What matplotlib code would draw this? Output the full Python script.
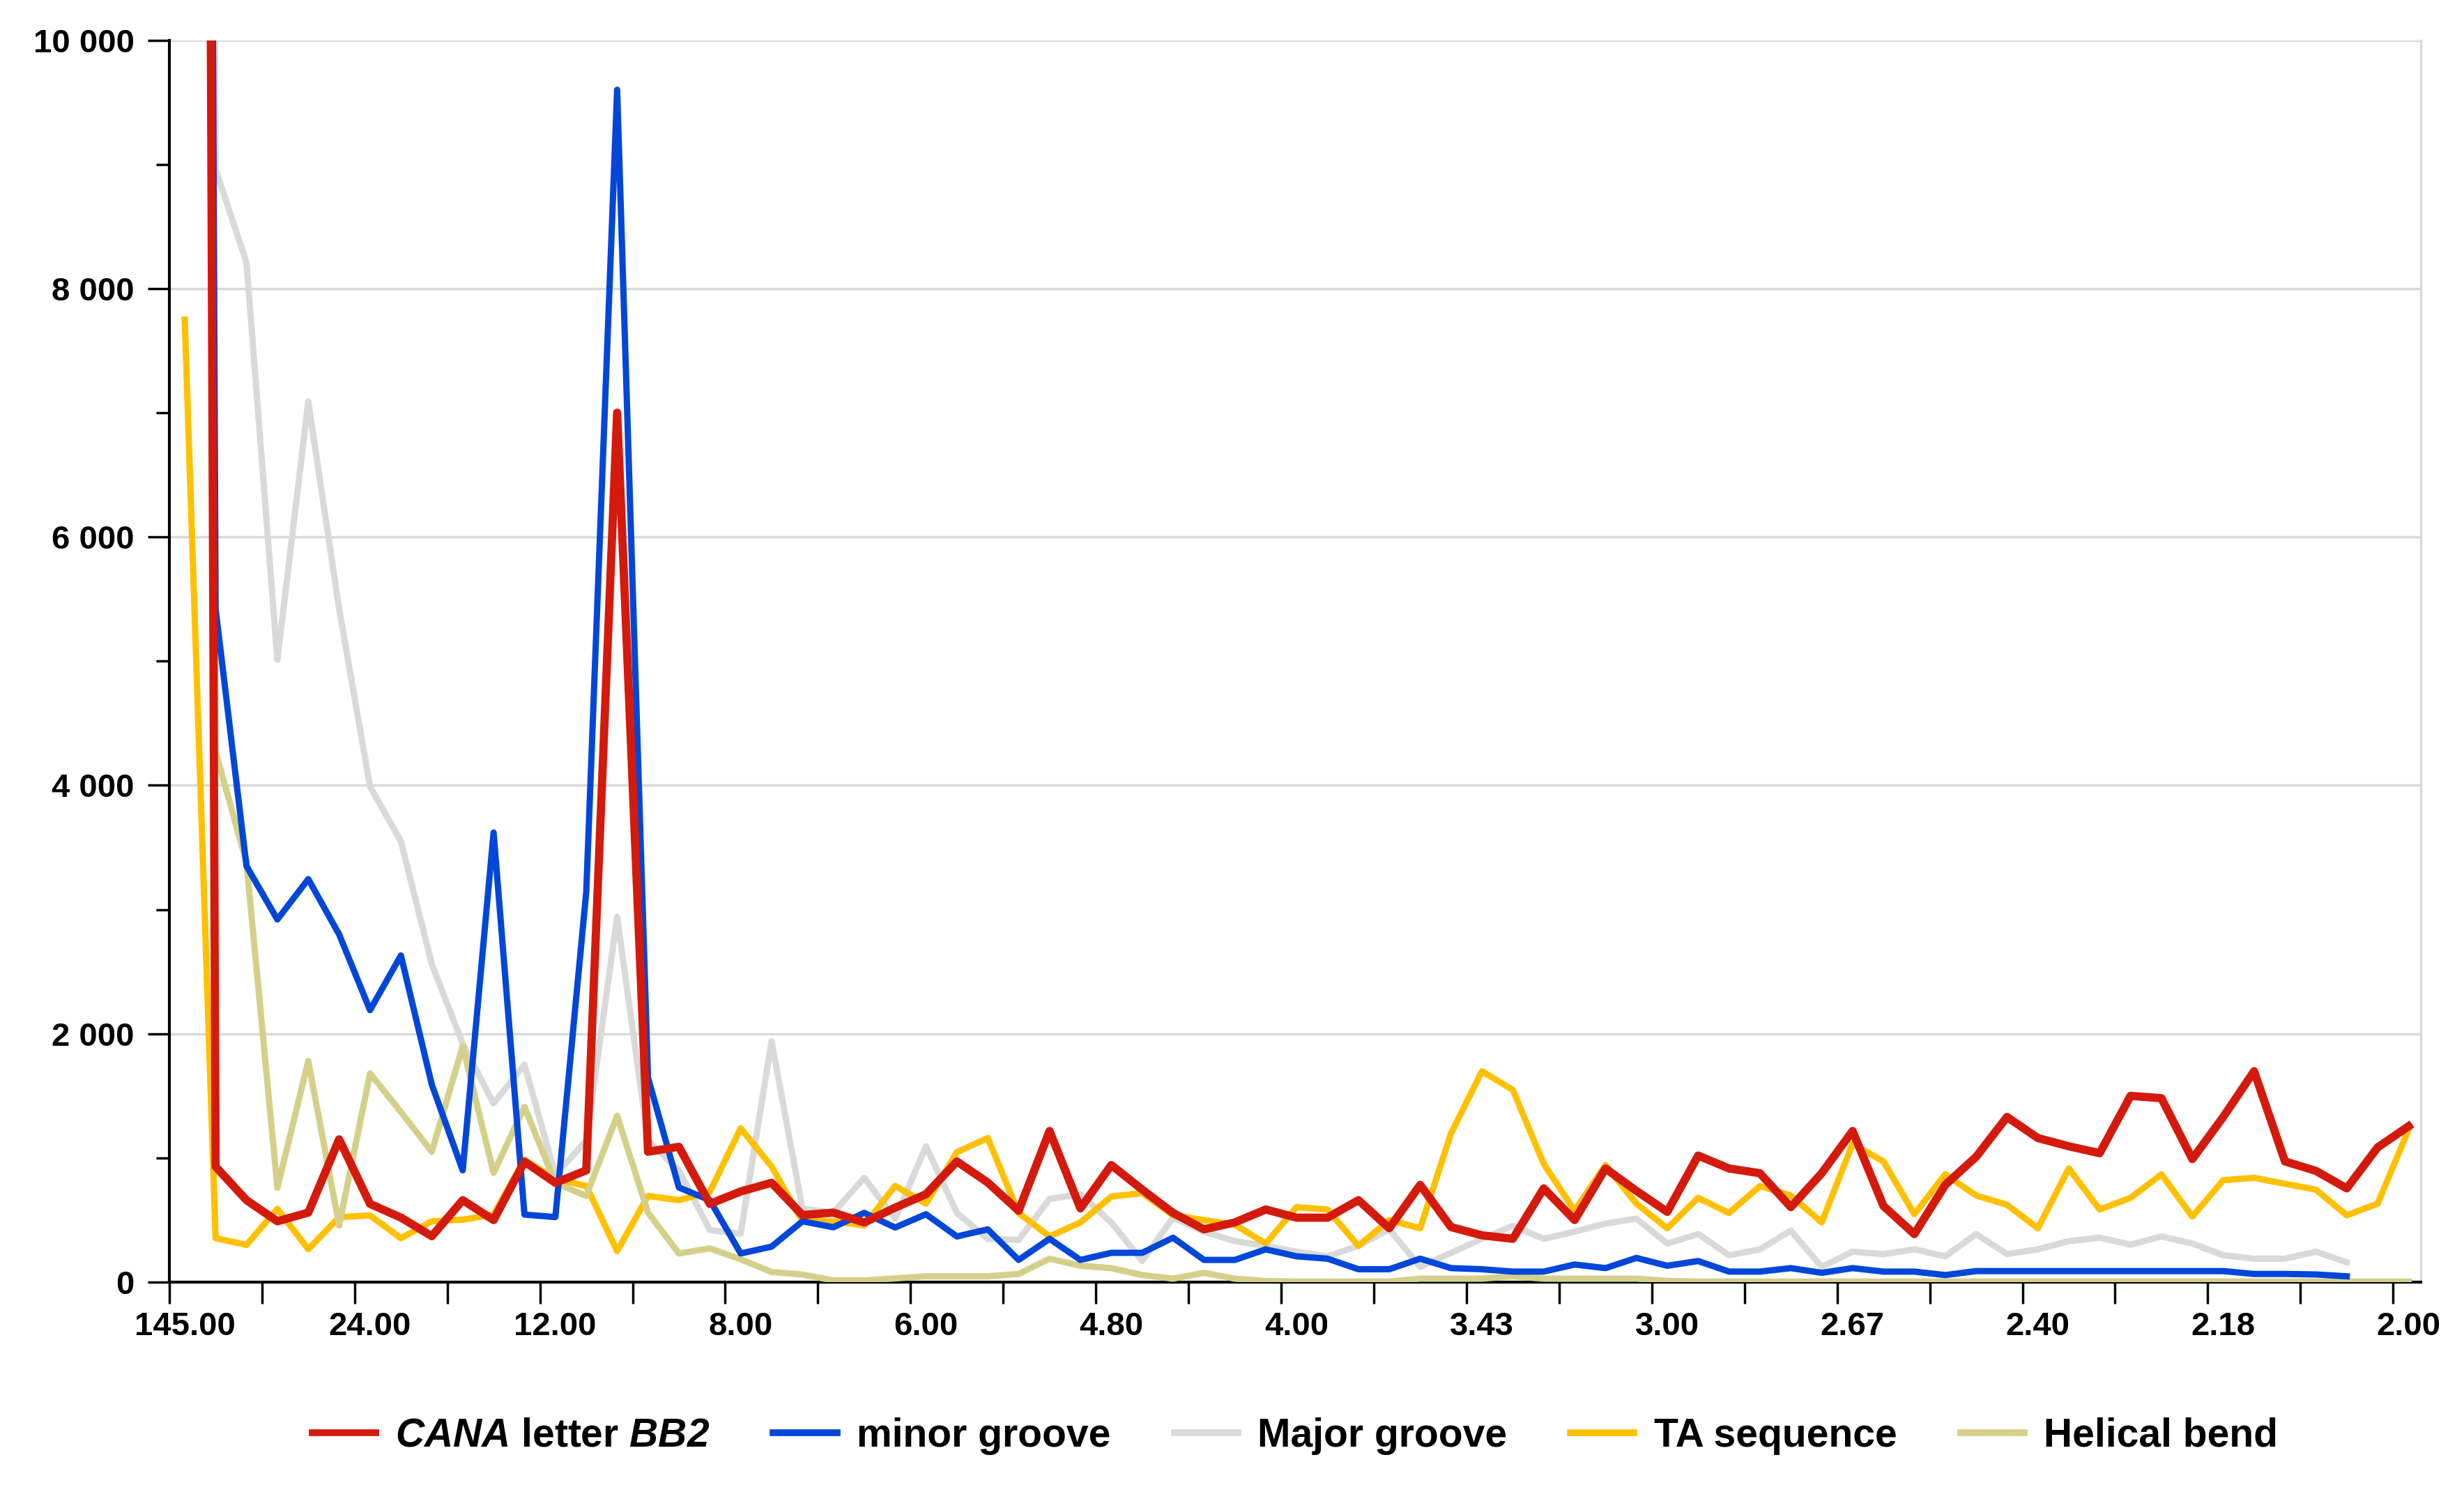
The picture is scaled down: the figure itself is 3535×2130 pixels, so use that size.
import numpy as np
import matplotlib.pyplot as plt
from matplotlib.ticker import MultipleLocator, FuncFormatter, FixedLocator
from matplotlib import font_manager

fams = {f.name for f in font_manager.fontManager.ttflist}
FONT = 'Liberation Sans Narrow' if 'Liberation Sans Narrow' in fams else 'Liberation Sans'
plt.rcParams['font.family'] = FONT
plt.rcParams['mathtext.fontset'] = 'custom'
plt.rcParams['mathtext.it'] = FONT + ':bold:italic'
plt.rcParams['mathtext.rm'] = FONT + ':bold:italic'

# x categories: 145.00 then 144/n periods, labelled every 6th
n_pts = 73
tick_labels = ['145.00', '24.00', '12.00', '8.00', '6.00', '4.80', '4.00',
               '3.43', '3.00', '2.67', '2.40', '2.18', '2.00']

# first point of most series is far off scale (clipped at 10 000)
cana = [60000, 930, 660, 490, 560, 1150, 630, 520, 370, 660, 500, 970, 800, 900, 7000,
        1050, 1090, 630, 730, 800, 540, 560, 480, 600, 708, 972, 802, 575, 1217, 594,
        943, 745, 557, 425, 481, 585, 519, 519, 660, 434, 783, 443, 377, 349, 755, 500,
        915, 735, 566, 1019, 915, 877, 604, 877, 1217, 613, 387, 783, 1009, 1330, 1160,
        1094, 1038, 1500, 1481, 991, 1330, 1698, 972, 896, 755, 1085, 1255]
minor = [60000, 5420, 3350, 2920, 3245, 2800, 2190, 2630, 1590, 900, 3620, 544, 524, 3140,
         9600, 1646, 762, 660, 231, 286, 490, 442, 558, 440, 547, 368, 425, 179, 349, 179,
         236, 236, 358, 179, 179, 264, 208, 189, 104, 104, 189, 113, 104, 85, 85, 142,
         113, 195, 132, 170, 85, 85, 113, 75, 113, 85, 85, 57, 89, 89, 89, 89, 89, 89,
         89, 89, 89, 66, 66, 62, 47, np.nan, np.nan]
major = [60000, 8960, 8210, 5010, 7090, 5420, 3990, 3550, 2560, 1920, 1440, 1750, 864,
         1140, 2940, 1140, 900, 420, 390, 1940, 590, 560, 840, 510, 1094, 557, 349, 340,
         670, 708, 481, 170, 519, 406, 330, 292, 245, 208, 292, 425, 123, 236, 349, 453,
         349, 406, 472, 512, 311, 387, 217, 264, 415, 123, 245, 226, 264, 208, 387, 226,
         264, 330, 358, 302, 368, 311, 217, 189, 189, 245, 160, np.nan, np.nan]
ta = [7750, 354, 300, 590, 265, 524, 537, 354, 490, 503, 544, 986, 830, 775, 250, 694,
      660, 728, 1238, 932, 490, 490, 456, 775, 632, 1047, 1160, 557, 368, 481, 689, 717,
      538, 500, 462, 311, 604, 585, 292, 500, 434, 1198, 1698, 1547, 953, 575, 943, 632,
      434, 679, 557, 774, 698, 481, 1113, 972, 547, 868, 698, 623, 434, 915, 585, 679,
      868, 528, 821, 840, 792, 745, 538, 632, 1226]
helical = [60000, 4270, 3380, 760, 1780, 456, 1680, 1370, 1050, 1900, 880, 1410, 800, 694,
           1340, 560, 231, 272, 184, 82, 61, 14, 14, 30, 47, 47, 47, 66, 189, 132, 113, 57,
           28, 75, 28, 9, 5, 5, 5, 5, 28, 28, 28, 47, 28, 28, 28, 28, 10, 5, 5, 5, 5, 5,
           5, 5, 5, 5, 5, 5, 5, 5, 5, 5, 5, 5, 5, 5, 5, 5, 5, 5, 5]

series = [
    ('$CANA$ letter $BB2$', cana, '#d41a0c', 8.5, 5),
    ('minor groove', minor, '#0047d9', 6.5, 4),
    ('Major groove', major, '#d9d9d9', 6.5, 1),
    ('TA sequence', ta, '#ffc000', 6.5, 2),
    ('Helical bend', helical, '#d4d08a', 6.5, 3),
]

fig = plt.figure(figsize=(35.35, 21.3), dpi=100)
ax = fig.add_axes([0.0687, 0.1366, 0.9138, 0.8364])
x = np.arange(n_pts)
for label, vals, col, lw, z in series:
    ax.plot(x, vals, color=col, lw=lw, label=label, zorder=z)

ax.set_ylim(0, 10000)
ax.set_xlim(-0.5, 72.4)
ax.yaxis.set_major_locator(MultipleLocator(2000))
ax.yaxis.set_minor_locator(MultipleLocator(1000))
ax.yaxis.set_major_formatter(FuncFormatter(lambda v, p: f'{int(v):,}'.replace(',', ' ')))
ax.grid(axis='y', which='major', color='#d9d9d9', lw=2.5, zorder=0)

ax.xaxis.set_major_locator(FixedLocator(np.arange(-0.5, 72, 3)))
ax.xaxis.set_major_formatter(FuncFormatter(lambda v, p: ''))
ax.xaxis.set_minor_locator(FixedLocator(np.arange(0, 73, 6)))
ax.set_xticklabels(tick_labels, minor=True)
ax.tick_params(axis='x', which='major', length=22, width=2.5, direction='out')
ax.tick_params(axis='x', which='minor', length=0, pad=30, labelsize=34)
ax.tick_params(axis='y', which='major', length=22, width=2.5, labelsize=34, pad=14)
ax.tick_params(axis='y', which='minor', length=14, width=2.5)
for lab in ax.get_xticklabels(minor=True) + ax.get_yticklabels():
    lab.set_fontweight('bold')

for s in ['left', 'bottom']:
    ax.spines[s].set_linewidth(3)
ax.spines['top'].set_visible(False)
ax.spines['right'].set_color('#d9d9d9')
ax.spines['right'].set_linewidth(2.5)

leg = ax.legend(loc='upper center', bbox_to_anchor=(0.5, -0.08), ncol=5, frameon=False,
                prop={'family': FONT, 'weight': 'bold', 'size': 41},
                handlelength=1.6, columnspacing=1.6, handletextpad=0.5)
for h in leg.get_lines():
    h.set_linewidth(7)

fig.savefig('out.png', dpi=100)
